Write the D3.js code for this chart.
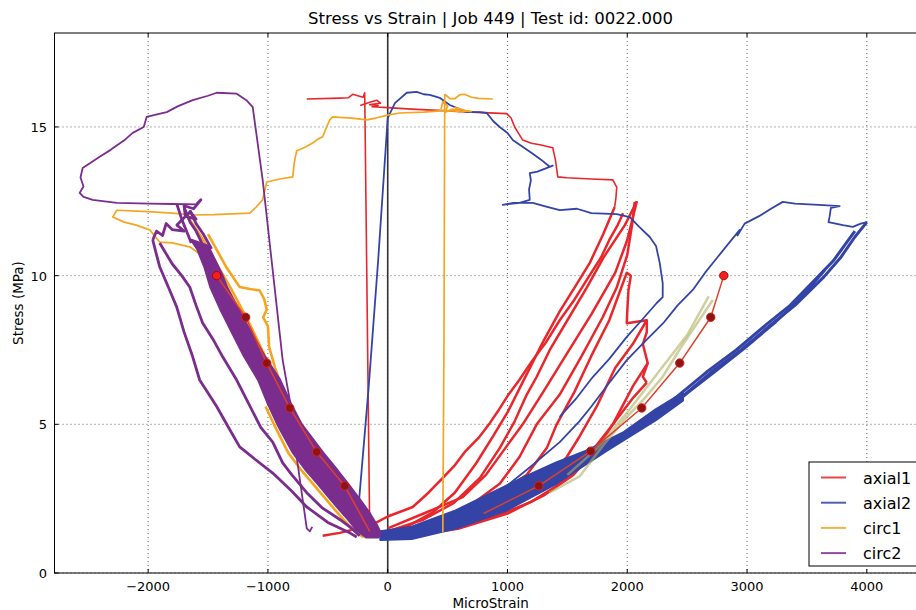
<!DOCTYPE html>
<html>
<head>
<meta charset="utf-8">
<script src="https://cdn.jsdelivr.net/npm/d3@7"></script>
<style>
  body { margin: 0; background: #fff; }
  text { font-family: "DejaVu Sans", sans-serif; fill: #000; }
</style>
</head>
<body>
<div id="chart"></div>
<script>
'use strict';

// ---- data (MicroStrain, MPa) ----
var xTicks = [-2000, -1000, 0, 1000, 2000, 3000, 4000];
var xTickLabels = ['\u22122000', '\u22121000', '0', '1000', '2000', '3000', '4000'];
var yTicks = [0, 5, 10, 15];
var yTickLabels = ['0', '5', '10', '15'];
var seriesNames = ['axial1', 'axial2', 'circ1', 'circ2'];

var axial1Thin = [
  [[-150, 1.3], [-192, 16.15], [-205, 16.0], [-250, 16.05], [-292, 16.1], [-330, 15.98], [-400, 15.97], [-676, 15.94]],
  [[-230, 15.72], [-150, 15.83], [-92, 15.9], [-60, 15.8], [-150, 15.75], [-80, 15.72], [-130, 15.68], [0, 15.65],
   [200, 15.6], [460, 15.55], [700, 15.5], [994, 15.45], [1030, 15.3], [1060, 15.0], [1090, 14.8], [1127, 14.56],
   [1200, 14.45], [1270, 14.4], [1378, 14.3], [1400, 13.9], [1420, 13.32], [1495, 13.29], [1700, 13.25],
   [1879, 13.22], [1912, 12.98], [1905, 12.6], [1895, 12.31]]
];

var axial1Noisy = [
  [[-543, 1.25], [-400, 1.35], [-250, 1.5], [-92, 1.7], [0, 1.9], [209, 2.22], [340, 2.7], [460, 3.2], [560, 3.62],
   [650, 4.1], [760, 4.55], [852, 5.04], [930, 5.5], [1000, 5.95], [1100, 6.5], [1200, 7.1], [1320, 7.75],
   [1436, 8.5], [1560, 9.2], [1700, 10.1], [1780, 10.6], [1850, 11.2], [1920, 11.7], [1965, 12.1]],
  [[1895, 12.31], [1800, 11.4], [1687, 10.43], [1560, 9.6], [1436, 8.8], [1300, 7.8], [1200, 7.0], [1100, 6.2],
   [1000, 5.4], [880, 4.6], [740, 3.7], [560, 2.7], [380, 2.05], [180, 1.6], [0, 1.4]],
  [[0, 1.5], [300, 2.0], [626, 2.55], [820, 3.3], [1000, 4.3], [1127, 5.0], [1300, 6.1], [1500, 7.4], [1700, 8.7],
   [1900, 10.1], [2000, 11.2], [2080, 12.5]],
  [[2080, 12.5], [1980, 11.7], [1800, 10.6], [1662, 9.6], [1500, 8.5], [1353, 7.5], [1244, 6.6], [1161, 6.0],
   [1060, 5.1], [935, 4.2], [770, 3.2], [550, 2.35], [300, 1.8], [0, 1.4]],
  [[0, 1.3], [400, 1.75], [700, 2.3], [935, 3.0], [1100, 3.9], [1244, 5.0], [1436, 6.0], [1620, 7.3], [1795, 8.6],
   [1912, 9.6], [2000, 10.7], [2040, 11.7], [2062, 12.48]],
  [[100, 1.3], [500, 1.85], [900, 2.6], [1161, 3.3], [1328, 4.2], [1411, 5.0], [1560, 6.1], [1700, 7.3], [1850, 8.5],
   [1996, 10.1], [2030, 10.0], [2010, 9.5], [2000, 8.8], [1996, 8.4], [2163, 8.5], [2163, 8.1], [2130, 7.7],
   [2171, 7.06], [2130, 6.6], [2163, 6.4]],
  [[2163, 6.4], [2050, 5.9], [1900, 5.1], [1745, 4.3], [1600, 3.6], [1400, 2.9], [1200, 2.4], [900, 1.9], [500, 1.5], [100, 1.2]],
  [[2163, 8.5], [2046, 7.7], [1900, 6.9], [1745, 5.6], [1603, 4.6], [1495, 3.9], [1328, 3.2], [1100, 2.5], [800, 1.9], [400, 1.45], [0, 1.25]],
  [[2171, 7.06], [2050, 6.3], [1879, 5.0], [1750, 4.2], [1550, 3.3], [1300, 2.6], [1000, 2.0], [600, 1.5], [200, 1.25]]
];

var axial2Thin = [
  [[-280, 1.6], [-240, 2.4], [-160, 6.2], [-80, 10.5], [0, 15.3]],
  [[0, 15.3], [60, 15.8], [159, 16.15], [242, 16.18], [300, 16.1], [351, 16.08], [434, 15.98], [518, 15.74], [600, 15.6],
   [660, 15.5], [768, 15.5], [827, 15.47], [880, 15.2], [935, 15.0], [1000, 14.8], [1044, 14.56], [1120, 14.35],
   [1211, 14.1], [1280, 13.9], [1353, 13.66], [1378, 13.7], [1250, 13.5], [1186, 13.45], [1195, 13.2], [1180, 12.9],
   [1186, 12.55], [1100, 12.45], [960, 12.38], [1050, 12.45], [1211, 12.45], [1300, 12.35], [1436, 12.2],
   [1580, 12.25], [1700, 12.1], [1912, 12.07], [2021, 11.97], [2100, 11.64], [2188, 11.3], [2240, 11.0],
   [2271, 10.43], [2296, 9.75], [2296, 9.28], [2246, 9.08], [2120, 8.5], [1996, 7.94], [1850, 7.2], [1712, 6.59],
   [1580, 5.9], [1436, 5.25]],
  [[626, 1.78], [850, 2.45], [1000, 2.95], [1200, 3.6], [1436, 4.4], [1600, 5.1], [1700, 5.6], [1850, 6.4],
   [1996, 7.16], [2150, 7.8], [2300, 8.4], [2420, 9.0], [2547, 9.52], [2650, 10.1], [2750, 10.6], [2850, 11.1],
   [2939, 11.54], [2920, 11.35], [2980, 11.75], [3100, 12.0], [3200, 12.25], [3298, 12.48], [3400, 12.42],
   [3600, 12.38], [3774, 12.34], [3700, 12.28], [3690, 12.0], [3680, 11.8], [3800, 11.7], [3883, 11.64],
   [3950, 11.75], [4000, 11.8]]
];

var axial2Noisy = [
  [[4000, 11.8], [3900, 11.3], [3780, 10.6], [3640, 9.95], [3400, 9.0], [3200, 8.35], [2950, 7.5], [2700, 6.75],
   [2463, 5.95], [2238, 5.2]],
  [[3900, 11.5], [3820, 11.05], [3720, 10.5], [3590, 9.95], [3360, 9.0], [3160, 8.35], [2910, 7.5], [2660, 6.75],
   [2420, 5.95], [2200, 5.2]],
  [[3650, 10.2], [3440, 9.2], [3240, 8.45], [2990, 7.6], [2740, 6.8], [2500, 6.05], [2280, 5.3]]
];

var axial2BandLower = [[-60, 1.12], [200, 1.15], [568, 1.5], [985, 2.1], [1403, 3.0], [1820, 4.1], [2238, 5.15], [2463, 5.8]];
var axial2BandUpper = [[-60, 1.4], [200, 1.55], [568, 2.1], [850, 2.65], [1127, 3.2], [1403, 3.7], [1678, 4.14],
  [1962, 4.71], [2238, 5.5], [2463, 6.05]];

var circ1Thin = [
  [[460, 1.35], [470, 8.0], [476, 16.1]],
  [[476, 16.1], [520, 15.95], [560, 15.95], [600, 16.08], [640, 16.1], [700, 16.0], [760, 15.96], [877, 15.94]],
  [[445, 15.6], [460, 15.85], [500, 15.7], [480, 15.5], [540, 15.6], [600, 15.5], [560, 15.65], [650, 15.55], [700, 15.52]],
  [[700, 15.52], [460, 15.55], [300, 15.5], [100, 15.47], [0, 15.4], [-100, 15.3], [-175, 15.24], [-300, 15.3],
   [-400, 15.32], [-459, 15.34], [-484, 15.24], [-510, 15.0], [-543, 14.67], [-580, 14.6], [-626, 14.46],
   [-700, 14.3], [-760, 14.2], [-770, 14.0], [-780, 13.8], [-793, 13.32], [-900, 13.25], [-1010, 13.15],
   [-1030, 12.8], [-1044, 12.55], [-1100, 12.3], [-1152, 12.1], [-1300, 12.08], [-1450, 12.05], [-1628, 12.04],
   [-1800, 12.1], [-2000, 12.15], [-2262, 12.2], [-2296, 11.97], [-2200, 11.8], [-2100, 11.7], [-1987, 11.54],
   [-1904, 11.13], [-1800, 11.1], [-1653, 10.97], [-1560, 10.7], [-1500, 10.5]]
];

var circ1Noisy = [
  [[-1690, 12.1], [-1540, 11.2], [-1400, 10.2], [-1300, 9.5], [-1180, 8.6], [-1060, 7.6], [-930, 6.5], [-800, 5.5],
   [-690, 4.8], [-560, 3.9], [-420, 3.0], [-290, 2.2], [-170, 1.5], [-110, 1.2]],
  [[-1500, 11.4], [-1350, 10.3], [-1236, 9.62], [-1150, 9.55], [-1069, 9.5], [-1030, 9.2], [-1010, 8.85],
   [-1040, 8.6], [-1000, 8.3], [-990, 7.6], [-940, 6.9], [-860, 6.0], [-760, 5.1], [-640, 4.2], [-500, 3.2],
   [-360, 2.3], [-230, 1.6], [-130, 1.2]],
  [[-1020, 5.6], [-950, 5.0], [-830, 4.04], [-720, 3.45], [-610, 2.93], [-520, 2.5], [-440, 2.12], [-370, 1.8],
   [-290, 1.45], [-200, 1.2]]
];

var circ2Thin = [
  [[-1595, 12.4], [-1795, 12.41], [-1987, 12.42], [-2262, 12.45], [-2463, 12.55], [-2540, 12.65], [-2572, 12.78],
   [-2540, 13.0], [-2565, 13.3], [-2547, 13.62], [-2480, 13.8], [-2405, 14.0], [-2313, 14.23], [-2200, 14.55],
   [-2129, 14.8], [-2037, 15.0], [-2012, 15.34], [-1900, 15.45], [-1845, 15.5], [-1750, 15.7], [-1628, 15.9],
   [-1500, 16.05], [-1428, 16.15], [-1261, 16.12], [-1180, 15.9], [-1127, 15.67], [-1044, 13.22], [-877, 7.16],
   [-818, 5.82], [-760, 3.9], [-676, 1.5], [-650, 1.4], [-630, 1.55]]
];

var circ2Noisy = [
  [[-1595, 12.4], [-1560, 12.55], [-1620, 12.25], [-1700, 12.35], [-1690, 12.0], [-1600, 11.9], [-1650, 12.15],
   [-1760, 11.7], [-1700, 11.5], [-1800, 11.55], [-1850, 11.75], [-1880, 11.35], [-1930, 11.5], [-1962, 11.2]],
  [[-1962, 11.2], [-1930, 10.7], [-1904, 10.3], [-1830, 9.6], [-1762, 8.95], [-1700, 8.1], [-1628, 7.27],
   [-1570, 6.49], [-1500, 6.05], [-1428, 5.6], [-1330, 4.9], [-1236, 4.24], [-1100, 3.8], [-960, 3.36], [-800, 2.75],
   [-676, 2.22], [-500, 1.7], [-317, 1.35], [-259, 1.21]],
  [[-1904, 11.1], [-1800, 10.4], [-1720, 10.0], [-1653, 9.62], [-1600, 9.0], [-1545, 8.41], [-1450, 7.8],
   [-1378, 7.27], [-1261, 6.49], [-1177, 5.82], [-1060, 4.9], [-960, 4.4], [-877, 3.7], [-800, 3.3], [-676, 2.7],
   [-550, 2.2], [-400, 1.8], [-300, 1.5], [-234, 1.25]],
  [[-1760, 12.4], [-1720, 11.9], [-1690, 11.6], [-1640, 11.1]],
  [[-1700, 12.3], [-1650, 11.8], [-1600, 11.5], [-1540, 11.0]],
  [[-1650, 12.2], [-1600, 11.75], [-1540, 11.4], [-1470, 10.9]]
];

var circ2BandLeft = [[-1640, 11.2], [-1590, 10.9], [-1530, 10.3], [-1480, 9.62],
  [-1400, 8.9], [-1310, 8.17], [-1200, 7.3], [-1080, 6.49], [-1000, 5.7], [-920, 5.0], [-790, 4.04], [-680, 3.45],
  [-568, 2.93], [-480, 2.5], [-400, 2.12], [-330, 1.8], [-259, 1.45], [-180, 1.2]];
var circ2BandRight = [[-1500, 11.0], [-1440, 10.5], [-1380, 10.0], [-1344, 9.62], [-1250, 8.9],
  [-1152, 8.17], [-1030, 7.3], [-900, 6.49], [-810, 5.7], [-720, 5.0], [-540, 4.04], [-420, 3.45], [-320, 2.93],
  [-220, 2.4], [-150, 2.0], [-90, 1.6], [-60, 1.35], [-80, 1.2]];

// peak markers and the fitted lines through them
var markersLeft = [[-1428, 10.0], [-1186, 8.6], [-1010, 7.06], [-818, 5.55], [-593, 4.07], [-359, 2.93]];
var markersRight = [[2806, 10.0], [2697, 8.6], [2438, 7.06], [2121, 5.55], [1695, 4.1], [1261, 2.93]];
var fitTailLeft = [[-359, 2.93], [-150, 1.4]];
var fitTailRight = [[1261, 2.93], [800, 2.0]];
var khakiLines = [
  [[1350, 2.7], [1603, 3.25], [1800, 4.3], [1996, 5.25], [2150, 5.9], [2296, 6.6], [2450, 7.6], [2600, 8.5], [2714, 9.18]],
  [[1500, 3.3], [1750, 4.2], [2000, 5.4], [2250, 6.7], [2500, 8.0], [2680, 9.3]]
];

// ---- layout ----
var WIDTH = 916,
    HEIGHT = 610,
    COLORS = {axial1: '#e8262b', axial2: '#3444a6', circ1: '#f5a51f', circ2: '#7b2d8e'};

var plotLeft = 54.5, plotRight = 926.7, plotTop = 33, plotBottom = 573;

var x = d3.scaleLinear().domain([-2782, 4500]).range([plotLeft, plotRight]);
var y = d3.scaleLinear().domain([0, 18.16]).range([plotBottom, plotTop]);

var line = d3.line()
    .x(function (d) { return x(d[0]); })
    .y(function (d) { return y(d[1]); });

var svg = d3.select('#chart').append('svg')
    .attr('width', WIDTH)
    .attr('height', HEIGHT);

svg.append('defs').append('clipPath')
    .attr('id', 'clipPlot')
  .append('rect')
    .attr('x', plotLeft)
    .attr('y', plotTop)
    .attr('width', plotRight - plotLeft)
    .attr('height', plotBottom - plotTop);

// grid
var grid = svg.append('g').attr('class', 'grid');
grid.selectAll('line.gx').data(xTicks).enter().append('line')
    .attr('x1', function (d) { return x(d); })
    .attr('x2', function (d) { return x(d); })
    .attr('y1', plotTop).attr('y2', plotBottom)
    .attr('stroke', '#000').attr('stroke-width', 0.8)
    .attr('stroke-dasharray', '1,3').attr('opacity', 0.75);
grid.selectAll('line.gy').data(yTicks).enter().append('line')
    .attr('y1', function (d) { return y(d); })
    .attr('y2', function (d) { return y(d); })
    .attr('x1', plotLeft).attr('x2', plotRight)
    .attr('stroke', '#000').attr('stroke-width', 0.8)
    .attr('stroke-dasharray', '1,3').attr('opacity', 0.75);

var plotArea = svg.append('g').attr('clip-path', 'url(#clipPlot)');

// zero strain line
plotArea.append('line')
    .attr('x1', x(0)).attr('x2', x(0))
    .attr('y1', plotTop).attr('y2', plotBottom)
    .attr('stroke', '#333').attr('stroke-width', 1.6);

function drawStrands(strands, color, width) {
  plotArea.append('g').selectAll('path').data(strands).enter().append('path')
      .attr('d', line)
      .attr('fill', 'none')
      .attr('stroke', color)
      .attr('stroke-width', width)
      .attr('stroke-linejoin', 'round');
}

function drawBand(edgeA, edgeB, color) {
  plotArea.append('path')
      .attr('d', line(edgeA.concat(edgeB.slice().reverse())) + 'Z')
      .attr('fill', color)
      .attr('stroke', color)
      .attr('stroke-width', 2.5)
      .attr('stroke-linejoin', 'round');
}

// axial1
drawStrands(axial1Thin, COLORS.axial1, 1.6);
drawStrands(axial1Noisy, COLORS.axial1, 2.5);
// axial2
drawBand(axial2BandLower, axial2BandUpper, COLORS.axial2);
drawStrands(axial2Thin, COLORS.axial2, 1.8);
drawStrands(axial2Noisy, COLORS.axial2, 3);
// circ1
drawStrands(circ1Thin, COLORS.circ1, 1.7);
drawStrands(circ1Noisy, COLORS.circ1, 2.6);
// circ2
drawBand(circ2BandLeft, circ2BandRight, COLORS.circ2);
drawStrands(circ2Thin, COLORS.circ2, 1.8);
drawStrands(circ2Noisy, COLORS.circ2, 2.8);

// fit lines and markers
plotArea.append('g').selectAll('path').data(khakiLines).enter().append('path')
    .attr('d', line)
    .attr('fill', 'none')
    .attr('stroke', 'rgba(175,175,95,0.6)')
    .attr('stroke-width', 2.5);
drawStrands([markersLeft.concat(fitTailLeft.slice(1)), markersRight.concat(fitTailRight.slice(1))], '#e0402a', 1.5);

plotArea.append('g').selectAll('circle').data(markersLeft.concat(markersRight)).enter().append('circle')
    .attr('cx', function (d) { return x(d[0]); })
    .attr('cy', function (d) { return y(d[1]); })
    .attr('r', 4.2)
    .attr('fill', function (d) { return d[1] === 10 ? '#f32020' : '#8e1414'; })
    .attr('stroke', function (d) { return d[1] === 10 ? '#b00000' : '#d82020'; })
    .attr('stroke-width', 1);

// frame
svg.append('rect')
    .attr('x', plotLeft).attr('y', plotTop)
    .attr('width', plotRight - plotLeft)
    .attr('height', plotBottom - plotTop)
    .attr('fill', 'none').attr('stroke', '#000').attr('stroke-width', 1);

// inward ticks
var ticks = svg.append('g').attr('stroke', '#000').attr('stroke-width', 1);
xTicks.forEach(function (t) {
  ticks.append('line').attr('x1', x(t)).attr('x2', x(t)).attr('y1', plotBottom).attr('y2', plotBottom - 4);
  ticks.append('line').attr('x1', x(t)).attr('x2', x(t)).attr('y1', plotTop).attr('y2', plotTop + 4);
});
yTicks.forEach(function (t) {
  ticks.append('line').attr('y1', y(t)).attr('y2', y(t)).attr('x1', plotLeft).attr('x2', plotLeft + 4);
  ticks.append('line').attr('y1', y(t)).attr('y2', y(t)).attr('x1', plotRight).attr('x2', plotRight - 4);
});

// tick labels
svg.append('g').selectAll('text').data(xTicks).enter().append('text')
    .attr('x', function (d) { return x(d); })
    .attr('y', 591)
    .attr('text-anchor', 'middle')
    .style('font-size', '13px')
    .text(function (d, i) { return xTickLabels[i]; });
svg.append('g').selectAll('text').data(yTicks).enter().append('text')
    .attr('x', 47)
    .attr('y', function (d) { return y(d) + 5; })
    .attr('text-anchor', 'end')
    .style('font-size', '13px')
    .text(function (d, i) { return yTickLabels[i]; });

// titles
svg.append('text')
    .attr('x', (plotLeft + plotRight) / 2)
    .attr('y', 24)
    .attr('text-anchor', 'middle')
    .style('font-size', '16.5px')
    .text('Stress vs Strain | Job 449 | Test id: 0022.000');
svg.append('text')
    .attr('x', (plotLeft + plotRight) / 2)
    .attr('y', 608)
    .attr('text-anchor', 'middle')
    .style('font-size', '13.5px')
    .text('MicroStrain');
svg.append('text')
    .attr('transform', 'translate(23,' + ((plotTop + plotBottom) / 2) + ') rotate(-90)')
    .attr('text-anchor', 'middle')
    .style('font-size', '13.5px')
    .text('Stress (MPa)');

// legend
var legend = svg.append('g').attr('transform', 'translate(809,462)');
legend.append('rect')
    .attr('width', 130).attr('height', 104)
    .attr('fill', '#fff').attr('stroke', '#000').attr('stroke-width', 1);
seriesNames.forEach(function (name, i) {
  var ly = 15.5 + i * 25.2;
  legend.append('line')
      .attr('x1', 12).attr('x2', 37).attr('y1', ly).attr('y2', ly)
      .attr('stroke', COLORS[name]).attr('stroke-width', 2).attr('opacity', 0.85);
  legend.append('text')
      .attr('x', 54).attr('y', ly + 6)
      .style('font-size', '16px')
      .text(name);
});
</script>
</body>
</html>
